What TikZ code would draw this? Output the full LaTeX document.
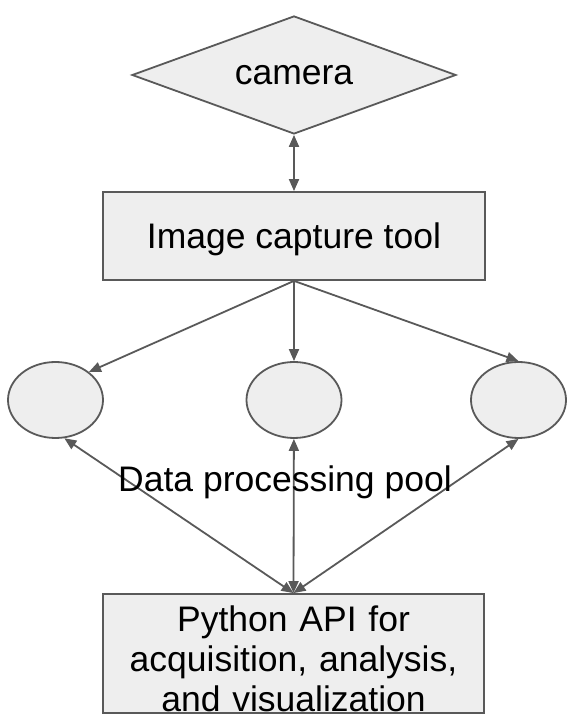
\documentclass[tikz,border=0pt]{standalone}
\usepackage{fontspec}
\setmainfont{Liberation Sans}
\usepackage{tikz}
\usetikzlibrary{shapes.geometric, arrows.meta}
\definecolor{boxfill}{HTML}{EEEEEE}
\definecolor{linegray}{HTML}{595959}

\begin{document}
\begin{tikzpicture}[x=1pt, y=1pt,
  font=\fontsize{35.5}{40}\selectfont,
  >={Triangle[length=12pt,width=10pt]},
  box/.style={draw=linegray, fill=boxfill, line width=1.8pt, inner sep=0pt},
  worker/.style={ellipse, draw=linegray, fill=boxfill, line width=1.8pt, minimum width=95pt, minimum height=76pt, inner sep=0pt},
  link/.style={draw=linegray, line width=1.8pt}]
\useasboundingbox (0,0) rectangle (576,728);
\node[box, diamond, aspect=3, minimum width=324pt, minimum height=118pt](cam) at (294,653) {camera};
\node[box, minimum width=382pt, minimum height=88pt, text depth=0pt](ict) at (294,492) {Image capture tool};
\node[worker](p1) at (55.5,328) {};
\node[worker](p2) at (294,328) {};
\node[worker](p3) at (518.5,328) {};
\node[box, minimum width=381pt, minimum height=119pt, text width=381pt, align=center, text height=25pt, text depth=68pt](api) at (293.5,74.5) {Python API for\\acquisition, analysis,\\and visualization};
%pool workers in and out
\draw[link,<->] (cam) -- (ict);
\draw[link,->] (ict.south) -- (p1.40);
\draw[link,->] (ict.south) -- (p2);
\draw[link,->] (ict.south) -- (p3.north);
\draw[link,<->] (p1.-77) -- (api.north);
\draw[link,<->] (p2) -- (api.north);
\draw[link,<->] (p3.south) -- (api.north);
\node[anchor=base](pool) at (285,236) {Data processing pool};
\end{tikzpicture}
\end{document}
